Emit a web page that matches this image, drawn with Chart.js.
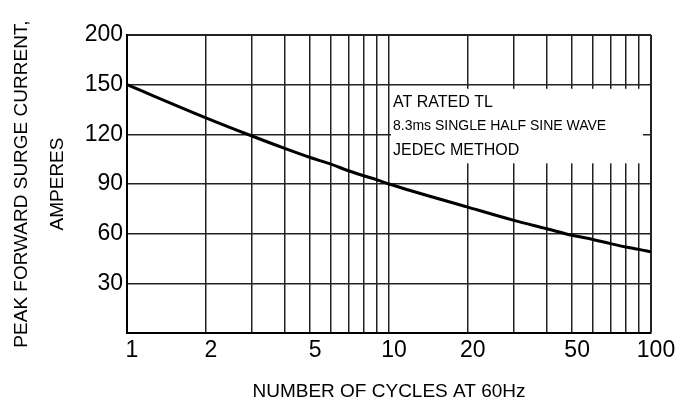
<!DOCTYPE html>
<html>
<head>
<meta charset="utf-8">
<script src="https://cdn.jsdelivr.net/npm/chart.js@4"></script>
<style>
  html, body { margin: 0; padding: 0; background: #fff; }
  canvas { display: block; }
</style>
</head>
<body>
<canvas id="surge_chart" width="683" height="403"></canvas>
<script>
// values
const cycles = [1, 2, 3, 4, 5, 6, 7, 8, 9, 10, 20, 30, 40, 50, 60, 70, 80, 90, 100];
const surgeAmps = [150, 130, 119, 111.5, 106, 102, 98, 95, 92.5, 90, 76, 68, 63, 59, 56.5, 54, 52, 50.5, 49];

const xGridValues = [1, 2, 3, 4, 5, 6, 7, 8, 9, 10, 20, 30, 40, 50, 60, 70, 80, 90, 100];
const xTickLabels = [1, 2, 5, 10, 20, 50, 100];
// top grid line is labelled 200 on the original sheet
const yTickLabels = ["", "30", "60", "90", "120", "150", "200"];
const noteLines = ["AT RATED TL", "8.3ms SINGLE HALF SINE WAVE", "JEDEC METHOD"];

const FONT = '"Liberation Sans", Arial, sans-serif';

const notePlugin = {
  id: "noteBox",
  beforeDatasetsDraw(chart) {
    const { ctx, scales: { x, y } } = chart;
    const left = x.getPixelForValue(10) + 2;
    const right = x.getPixelForValue(100) - 8;
    const top = y.getPixelForValue(147.5);
    const bottom = y.getPixelForValue(102.5);
    ctx.save();
    ctx.fillStyle = "#fff";
    ctx.fillRect(left, top, right - left, bottom - top);
    ctx.fillStyle = "#000";
    ctx.textAlign = "left";
    ctx.textBaseline = "middle";
    ctx.font = "16px " + FONT;
    ctx.fillText(noteLines[0], left + 2, top + 14);
    ctx.font = "14px " + FONT;
    ctx.fillText(noteLines[1], left + 2, top + 37);
    ctx.font = "16px " + FONT;
    ctx.fillText(noteLines[2], left + 2, top + 62);
    ctx.restore();
  },
};

new Chart(document.getElementById("surge_chart"), {
  type: "line",
  data: {
    datasets: [
      {
        data: cycles.map((c, i) => ({ x: c, y: surgeAmps[i] })),
        borderColor: "#000",
        borderWidth: 3,
        pointRadius: 0,
        fill: false,
        cubicInterpolationMode: "monotone",
      },
    ],
  },
  options: {
    responsive: false,
    animation: false,
    layout: { padding: { left: 0, right: 32, top: 35, bottom: 0 } },
    plugins: {
      legend: { display: false },
      tooltip: { enabled: false },
    },
    scales: {
      x: {
        type: "logarithmic",
        min: 1,
        max: 100,
        afterBuildTicks: (scale) => {
          scale.ticks = xGridValues.map((v) => ({ value: v }));
        },
        afterFit: (scale) => {
          scale.height = 70;
        },
        grid: {
          color: "#222",
          lineWidth: (ctx) => (ctx.tick && ctx.tick.value === 100 ? 2 : 1.5),
          drawTicks: false,
        },
        border: { color: "#000", width: 2 },
        ticks: {
          autoSkip: false,
          maxRotation: 0,
          padding: 4,
          labelOffset: 5,
          color: "#000",
          font: { family: FONT, size: 23 },
          callback: (value) => (xTickLabels.includes(value) ? String(value) : ""),
        },
        title: {
          display: true,
          text: "NUMBER OF CYCLES AT 60Hz",
          color: "#000",
          font: { family: FONT, size: 19 },
          padding: { top: 0, bottom: 0 },
        },
      },
      y: {
        min: 0,
        max: 180,
        afterFit: (scale) => {
          scale.width = 127;
        },
        grid: {
          color: "#222",
          lineWidth: (ctx) => (ctx.tick && ctx.tick.value === 180 ? 2 : 1.5),
          drawTicks: false,
        },
        border: { color: "#000", width: 2 },
        ticks: {
          stepSize: 30,
          padding: 4,
          color: "#000",
          font: { family: FONT, size: 23 },
          callback: (value, index) => yTickLabels[index],
        },
        title: {
          display: true,
          text: ["PEAK FORWARD SURGE CURRENT,", "AMPERES"],
          color: "#000",
          font: { family: FONT, size: 19, lineHeight: 1.9 },
          padding: { top: 4, bottom: 0 },
        },
      },
    },
  },
  plugins: [notePlugin],
});
</script>
</body>
</html>
